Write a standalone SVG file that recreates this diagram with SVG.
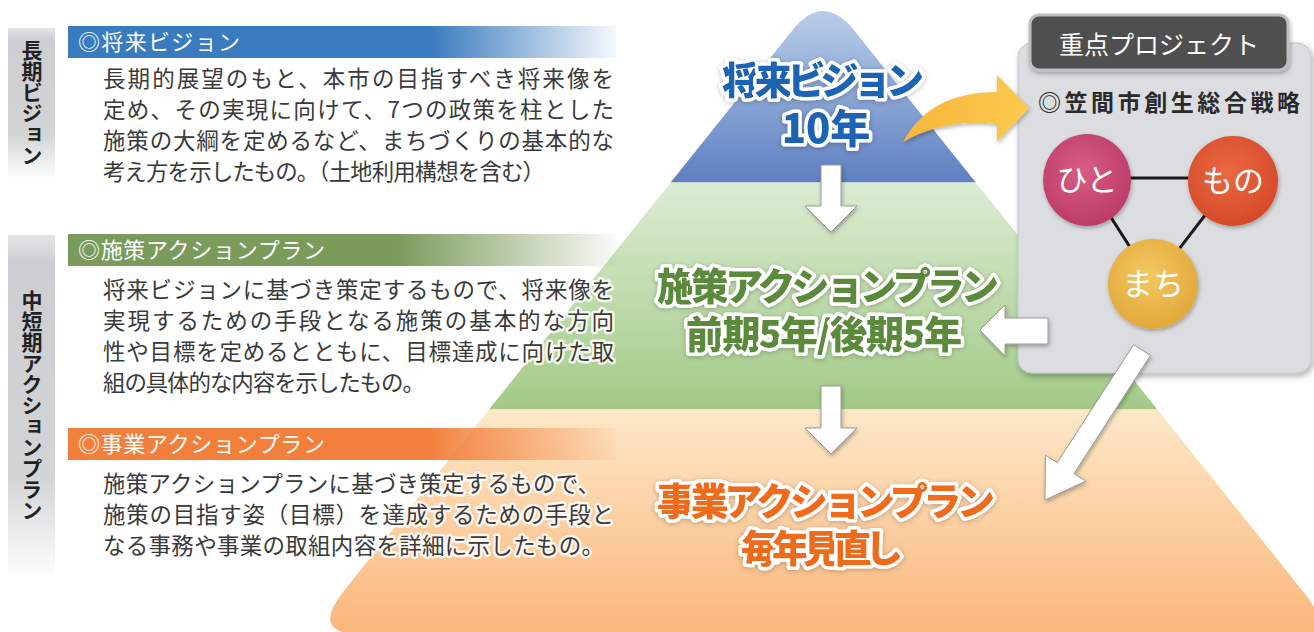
<svg xmlns="http://www.w3.org/2000/svg" width="1314" height="632" viewBox="0 0 1314 632">
<defs>
<style>
.body{font-family:"Noto Sans CJK JP","Noto Sans",sans-serif;font-size:22.5px;fill:#3a3a3a;stroke:#fff;stroke-width:5;stroke-opacity:.85;paint-order:stroke;stroke-linejoin:round;}
.hdr{font-family:"Noto Sans CJK JP","Noto Sans",sans-serif;font-size:22px;fill:#fff;}
.vlab{font-family:"Noto Sans CJK JP","Noto Sans",sans-serif;font-size:21px;font-weight:700;fill:#222;writing-mode:vertical-rl;text-anchor:middle;}
.plab{font-family:"Noto Sans CJK JP","Noto Sans",sans-serif;font-weight:900;font-size:38px;stroke:#fff;stroke-width:7;paint-order:stroke;stroke-linejoin:round;text-anchor:middle;}
.circ{font-family:"Noto Sans CJK JP","Noto Sans",sans-serif;font-size:31px;fill:#fff;text-anchor:middle;}
.arr{fill:#fff;stroke:#9a9a9a;stroke-width:1;}
.link{stroke:#1a1a1a;stroke-width:3;}
</style>
<linearGradient id="gBlue" gradientUnits="userSpaceOnUse" x1="0" y1="10" x2="0" y2="183"><stop offset="0" stop-color="#b8cee9"/><stop offset="1" stop-color="#5e7fc1"/></linearGradient>
<linearGradient id="gGreen" gradientUnits="userSpaceOnUse" x1="0" y1="183" x2="0" y2="410"><stop offset="0" stop-color="#dcecd3"/><stop offset="1" stop-color="#a2ca86"/></linearGradient>
<linearGradient id="gOrange" gradientUnits="userSpaceOnUse" x1="0" y1="410" x2="0" y2="632"><stop offset="0" stop-color="#fde8c8"/><stop offset="1" stop-color="#fab67b"/></linearGradient>
<linearGradient id="hBlue" x1="0" y1="0" x2="1" y2="0"><stop offset="0" stop-color="#3a7bbf"/><stop offset="0.66" stop-color="#3a7bbf"/><stop offset="1" stop-color="#3a7bbf" stop-opacity="0.05"/></linearGradient>
<linearGradient id="hGreen" x1="0" y1="0" x2="1" y2="0"><stop offset="0" stop-color="#7b9b5c"/><stop offset="0.6" stop-color="#7b9b5c"/><stop offset="1" stop-color="#7b9b5c" stop-opacity="0.05"/></linearGradient>
<linearGradient id="hOrange" x1="0" y1="0" x2="1" y2="0"><stop offset="0" stop-color="#f2803c"/><stop offset="0.66" stop-color="#f2803c"/><stop offset="1" stop-color="#f2803c" stop-opacity="0.05"/></linearGradient>
<linearGradient id="vBar" x1="0" y1="0" x2="0" y2="1"><stop offset="0" stop-color="#e4e5e7"/><stop offset="0.08" stop-color="#cdced1"/><stop offset="0.7" stop-color="#d3d4d6"/><stop offset="1" stop-color="#ffffff"/></linearGradient>
<linearGradient id="gYellow" x1="0" y1="0" x2="1" y2="0"><stop offset="0" stop-color="#f6b73c"/><stop offset="1" stop-color="#fcc94e"/></linearGradient>
<radialGradient id="cHito" cx="0.45" cy="0.4" r="0.6"><stop offset="0" stop-color="#d85d84"/><stop offset="1" stop-color="#bd3c68"/></radialGradient>
<radialGradient id="cMono" cx="0.45" cy="0.4" r="0.6"><stop offset="0" stop-color="#ea6a42"/><stop offset="1" stop-color="#d64a2a"/></radialGradient>
<radialGradient id="cMachi" cx="0.45" cy="0.4" r="0.6"><stop offset="0" stop-color="#f4c862"/><stop offset="1" stop-color="#e2a93c"/></radialGradient>
<clipPath id="cpB"><rect x="0" y="0" width="1314" height="182.5"/></clipPath>
<clipPath id="cpG"><rect x="0" y="182.5" width="1314" height="227"/></clipPath>
<clipPath id="cpO"><rect x="0" y="409.5" width="1314" height="230"/></clipPath>
<path id="pyr" d="M792.6,30 Q823,-8 853.8,30 L1303.4,592 Q1337,634 1300,634 L360,634 Q309.4,634 344.6,590 Z"/>
<filter id="sh" x="-20%" y="-20%" width="140%" height="140%"><feDropShadow dx="2" dy="3" stdDeviation="3" flood-color="#000" flood-opacity="0.3"/></filter>
<filter id="shs" x="-20%" y="-20%" width="140%" height="140%"><feDropShadow dx="1" dy="2" stdDeviation="2" flood-color="#000" flood-opacity="0.3"/></filter>
<filter id="glow" x="-10%" y="-30%" width="120%" height="160%"><feDropShadow dx="0" dy="1" stdDeviation="2.5" flood-color="#000" flood-opacity="0.25"/></filter>
</defs>

<rect width="1314" height="632" fill="#fff"/>

<g id="pyramid">
<use href="#pyr" fill="url(#gBlue)" clip-path="url(#cpB)"/>
<use href="#pyr" fill="url(#gGreen)" clip-path="url(#cpG)"/>
<use href="#pyr" fill="url(#gOrange)" clip-path="url(#cpO)"/>
</g>

<g id="left-labels">
<rect x="8" y="28" width="47" height="152" fill="url(#vBar)"/>
<text class="vlab" x="32" y="103">長期ビジョン</text>
<rect x="8" y="235" width="47" height="345" fill="url(#vBar)"/>
<text class="vlab" x="32" y="405">中短期アクションプラン</text>
</g>

<g id="sec-vision">
<rect x="68" y="26" width="548" height="32" fill="url(#hBlue)"/>
<text class="hdr" x="78" y="50" textLength="162">◎将来ビジョン</text>
<text class="body" x="103" y="87" textLength="511">長期的展望のもと、本市の目指すべき将来像を</text>
<text class="body" x="103" y="118" textLength="511">定め、その実現に向けて、7つの政策を柱とした</text>
<text class="body" x="103" y="149" textLength="511">施策の大綱を定めるなど、まちづくりの基本的な</text>
<text class="body" x="103" y="180" textLength="442">考え方を示したもの。（土地利用構想を含む）</text>
</g>

<g id="sec-policy">
<rect x="68" y="234" width="548" height="32" fill="url(#hGreen)"/>
<text class="hdr" x="78" y="258" textLength="247">◎施策アクションプラン</text>
<text class="body" x="103" y="298" textLength="511">将来ビジョンに基づき策定するもので、将来像を</text>
<text class="body" x="103" y="329" textLength="511">実現するための手段となる施策の基本的な方向</text>
<text class="body" x="103" y="360" textLength="511">性や目標を定めるとともに、目標達成に向けた取</text>
<text class="body" x="103" y="391" textLength="322">組の具体的な内容を示したもの。</text>
</g>

<g id="sec-project">
<rect x="68" y="428" width="548" height="32" fill="url(#hOrange)"/>
<text class="hdr" x="78" y="452" textLength="247">◎事業アクションプラン</text>
<text class="body" x="103" y="492" textLength="497">施策アクションプランに基づき策定するもので、</text>
<text class="body" x="103" y="523" textLength="511">施策の目指す姿（目標）を達成するための手段と</text>
<text class="body" x="103" y="554" textLength="501">なる事務や事業の取組内容を詳細に示したもの。</text>
</g>

<g id="key-project">
<rect x="1018" y="43" width="293" height="330" rx="14" fill="#dcdde0" stroke="#c4c5c8" stroke-width="1" filter="url(#sh)"/>
<rect x="1030" y="15" width="258" height="55" rx="9" fill="#4f4f4f" stroke="#bfbfbf" stroke-width="3" filter="url(#shs)"/>
<text x="1159" y="54" font-family="Noto Sans CJK JP, sans-serif" font-size="25" fill="#fff" text-anchor="middle" textLength="200">重点プロジェクト</text>
<text x="1038" y="111" font-family="Noto Sans CJK JP, sans-serif" font-size="23" font-weight="700" fill="#2a2a2a" textLength="262">◎笠間市創生総合戦略</text>
<line class="link" x1="1087" y1="178" x2="1232" y2="178"/>
<line class="link" x1="1087" y1="180" x2="1153" y2="283"/>
<line class="link" x1="1232" y1="180" x2="1153" y2="283"/>
</g>

<g id="hito">
<ellipse cx="1087" cy="180" rx="44" ry="46" fill="url(#cHito)" filter="url(#shs)"/>
<text class="circ" x="1087" y="191">ひと</text>
</g>
<g id="mono">
<ellipse cx="1233" cy="181" rx="45" ry="45" fill="url(#cMono)" filter="url(#shs)"/>
<text class="circ" x="1233" y="192">もの</text>
</g>
<g id="machi">
<ellipse cx="1153" cy="284" rx="45" ry="45" fill="url(#cMachi)" filter="url(#shs)"/>
<text class="circ" x="1153" y="295">まち</text>
</g>

<g id="level-vision">
<text class="plab" fill="#1d63b5" filter="url(#glow)"><tspan x="823" y="94" textLength="202">将来ビジョン</tspan><tspan x="826" y="143" font-size="40">10年</tspan></text>
</g>
<g id="level-policy">
<text class="plab" fill="#5b8a3c" filter="url(#glow)"><tspan x="828" y="300" textLength="342">施策アクションプラン</tspan><tspan x="824" y="348" textLength="276">前期5年/後期5年</tspan></text>
</g>
<g id="level-project">
<text class="plab" fill="#f06b1c" filter="url(#glow)"><tspan x="826" y="515" textLength="338">事業アクションプラン</tspan><tspan x="822" y="562" textLength="162">毎年見直し</tspan></text>
</g>

<g id="connectors">
<path class="arr" filter="url(#shs)" d="M821,165 L841,165 L841,206 L857,206 L831,232 L805,206 L821,206 Z"/>
<path class="arr" filter="url(#shs)" d="M821,386 L841,386 L841,428 L857,428 L831,454 L805,428 L821,428 Z"/>
<path class="arr" filter="url(#shs)" d="M1048,318 L1048,344 L1005,344 L1005,356 L980,330 L1005,305 L1005,318 Z"/>
<path class="arr" filter="url(#shs)" d="M1150.4,355.4 L1074,473.5 L1085.8,481.1 L1045,500 L1045.4,455.1 L1057.2,462.7 L1133.6,344.6 Z"/>
<path fill="url(#gYellow)" filter="url(#shs)" d="M903,142 Q930,92 997,92 L997,75 L1029,108 L997,142 L997,124 Q945,118 903,142 Z"/>
</g>
</svg>
